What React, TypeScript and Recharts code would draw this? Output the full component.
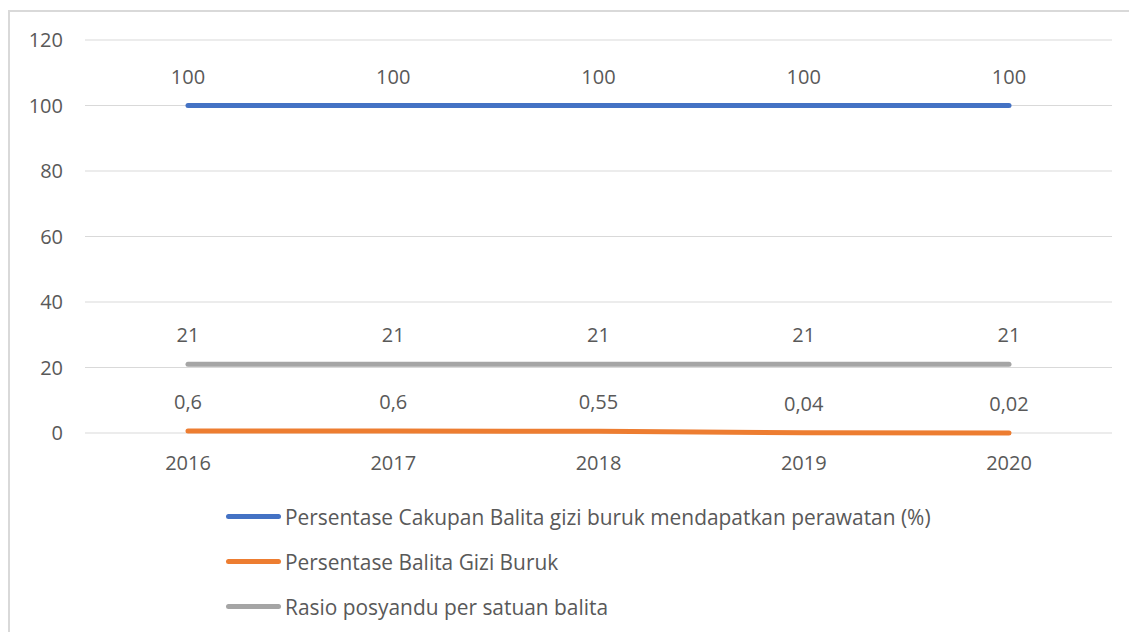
import { LineChart, Line, XAxis, YAxis, CartesianGrid, Legend, LabelList } from 'recharts'

const years = ['2016', '2017', '2018', '2019', '2020']
const cakupan = [100, 100, 100, 100, 100]
const giziBuruk = [0.6, 0.6, 0.55, 0.04, 0.02]
const rasio = [21, 21, 21, 21, 21]
const yTicks = [0, 20, 40, 60, 80, 100, 120]

const series = [
  { key: 'cakupan', name: 'Persentase Cakupan Balita gizi buruk mendapatkan perawatan (%)', color: '#4472C4' },
  { key: 'giziBuruk', name: 'Persentase Balita Gizi Buruk', color: '#ED7D31' },
  { key: 'rasio', name: 'Rasio posyandu per satuan balita', color: '#A5A5A5' },
]

const data = years.map((year, i) => ({
  year,
  cakupan: cakupan[i],
  giziBuruk: giziBuruk[i],
  rasio: rasio[i],
}))

const font = '"Open Sans", sans-serif'
const textColor = '#595959'

const fmt = (v: number) => String(v).replace('.', ',')

function LegendBox() {
  return (
    <div style={{ fontFamily: font, fontSize: 20.9, color: textColor }}>
      {series.map((s) => (
        <div key={s.key} style={{ display: 'flex', alignItems: 'center', height: 45 }}>
          <span
            style={{ width: 55, height: 5, borderRadius: 3, background: s.color, marginRight: 4, display: 'inline-block' }}
          />
          <span>{s.name}</span>
        </div>
      ))}
    </div>
  )
}

export default function App() {
  return (
    <div
      style={{
        marginTop: 2,
        width: 1140,
        height: 630,
        borderTop: '2px solid #d9d9d9',
        borderLeft: '2px solid #d9d9d9',
        boxSizing: 'border-box',
        background: '#fff',
      }}
    >
      <LineChart
        width={1127}
        height={616}
        data={data}
        margin={{ top: 28, right: 25, left: 15, bottom: 155 }}
        style={{ fontFamily: font }}
      >
        <CartesianGrid vertical={false} stroke="#d9d9d9" strokeWidth={1} />
        <XAxis
          dataKey="year"
          axisLine={false}
          tickLine={false}
          padding={{ left: 103, right: 103 }}
          tick={{ fill: textColor, fontSize: 20 }}
          tickMargin={17}
          height={40}
        />
        <YAxis
          domain={[0, 120]}
          ticks={yTicks}
          axisLine={false}
          tickLine={false}
          tick={{ fill: textColor, fontSize: 20 }}
          tickMargin={16}
          width={60}
        />
        <Legend
          layout="vertical"
          align="center"
          verticalAlign="middle"
          wrapperStyle={{ top: 482, left: 216, width: 850 }}
          content={() => <LegendBox />}
        />
        {series.map((s) => (
          <Line
            key={s.key}
            type="linear"
            dataKey={s.key}
            name={s.name}
            stroke={s.color}
            strokeWidth={5}
            strokeLinecap="round"
            dot={false}
            isAnimationActive={false}
          >
            <LabelList
              dataKey={s.key}
              position="top"
              offset={22}
              formatter={(v: any) => fmt(Number(v))}
              style={{ fill: textColor, fontSize: 20, fontFamily: font }}
            />
          </Line>
        ))}
      </LineChart>
    </div>
  )
}
